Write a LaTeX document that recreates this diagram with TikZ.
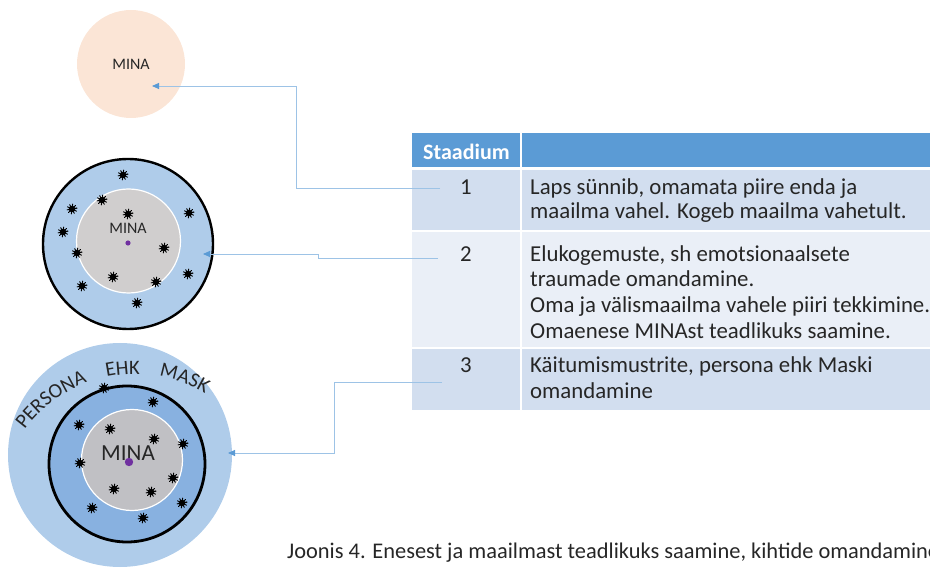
\documentclass[tikz,border=0pt]{standalone}
\usepackage{fontspec}
\setmainfont{Carlito}
\usetikzlibrary{arrows.meta,decorations.text}

\definecolor{peach}{HTML}{FBE5D6}
\definecolor{ringlight}{HTML}{AFCCEA}
\definecolor{ringdark}{HTML}{88B1E0}
\definecolor{coregray}{HTML}{D0CECE}
\definecolor{coregraydark}{HTML}{C0C0C4}
\definecolor{dotpurple}{HTML}{7030A0}
\definecolor{hdrblue}{HTML}{5B9BD5}
\definecolor{rowdark}{HTML}{D2DEEF}
\definecolor{rowlight}{HTML}{EAEFF7}
\definecolor{linkblue}{HTML}{9DC3E6}
\definecolor{tipblue}{HTML}{5B9BD5}
\definecolor{ink}{HTML}{262626}

\begin{document}
\begin{tikzpicture}[x=1pt,y=1pt,
  link/.style={draw=linkblue, line width=0.9pt,
    -{Triangle[length=7pt,width=6pt,color=tipblue]}},
  germ/.pic={
    \fill[black] (0,0) circle (3.3);
    \foreach \a in {10,46,...,370}
      \draw[black, line width=0.9pt, line cap=round] (0,0) -- (\a:5);
  },
  celltext/.style={anchor=base west, inner sep=0pt, text=ink,
    font=\fontsize{22.8}{25}\selectfont},
  numtext/.style={anchor=base, inner sep=0pt, text=ink,
    font=\fontsize{22.8}{25}\selectfont},
  label/.style={inner sep=0pt, text=ink}
]
\useasboundingbox (0,0) rectangle (930,579);
\clip (0,0) rectangle (930,579);

% ---- stage 1: bare self ----
\fill[peach] (131,515) circle (54);
\node[label, font=\fontsize{16}{16}\selectfont] (mina1) at (131,515) {MINA};

% ---- stage 2: self with a boundary ----
\fill[ringlight] (128,335) circle (85);
\draw[black, line width=2.4pt] (128,335) circle (85);
\fill[coregray, draw=white, line width=1.2pt] (128.5,338) circle (52);
\foreach \p in {(123,404),(102,379),(72,370),(128,365),(189,366),(63,347),
                (77,326),(164,331),(113,302),(188,305),(156,297),(82,293),(137,276)}
  \pic at \p {germ};
\node[label, font=\fontsize{16}{16}\selectfont] (mina2) at (128,351) {MINA};
\fill[dotpurple] (128,336) circle (2.6);

% ---- stage 3: self, boundary and persona ----
\fill[ringlight] (120,124) circle (112);
\fill[ringdark] (127,115) circle (78);
\draw[black, line width=2.8pt] (127,115) circle (78);
\fill[coregraydark, draw=white, line width=1.2pt] (132,119) circle (50.5);
\foreach \p in {(104,191),(153,177),(79,154),(110,150),(154,140),(183,135),
                (80,116),(173,101),(114,90),(151,87),(182,76),(92,71),(143,61)}
  \pic at \p {germ};
\node[label, font=\fontsize{23}{23}\selectfont] (mina3) at (128,126) {MINA};
\fill[dotpurple] (129,117) circle (4.2);

% arched caption over the mask
\path[decorate, decoration={text along path, text align=center,
      text={|\fontsize{20.5}{20.5}\selectfont\color{ink}|PERSONA}}]
  (135,68) ++(147:137) arc[start angle=147, end angle=107, radius=137];
\path[decorate, decoration={text along path, text align=center,
      text={|\fontsize{20.5}{20.5}\selectfont\color{ink}|EHK}}]
  (135,68) ++(104:137) arc[start angle=104, end angle=86, radius=137];
\path[decorate, decoration={text along path, text align=center,
      text={|\fontsize{20.5}{20.5}\selectfont\color{ink}|MASK}}]
  (135,68) ++(82:137) arc[start angle=82, end angle=57, radius=137];

% ---- table ----
\fill[hdrblue]  (412,412) rectangle (940,446);
\fill[rowdark]  (412,349) rectangle (940,409);
\fill[rowlight] (412,232) rectangle (940,347);
\fill[rowdark]  (412,169) rectangle (940,230);
\draw[white, line width=1.6pt] (521,446) -- (521,169);
\draw[white, line width=2pt] (412,410.5) -- (940,410.5);

\node[anchor=base west, inner sep=0pt, text=white,
      font=\fontsize{22}{22}\selectfont\bfseries] (hdr) at (423,419) {Staadium};

\node[numtext] (n1) at (466,384) {1};
\node[celltext] (r1a) at (530,384) {Laps sünnib, omamata piire enda ja};
\node[celltext] (r1b) at (530,360) {maailma vahel. Kogeb maailma vahetult.};

\node[numtext] (n2) at (466,317) {2};
\node[celltext] (r2a) at (530,317) {Elukogemuste, sh emotsionaalsete};
\node[celltext] (r2b) at (530,292) {traumade omandamine.};
\node[celltext] (r2c) at (530,266) {Oma ja välismaailma vahele piiri tekkimine.};
\node[celltext] (r2d) at (530,240) {Omaenese MINAst teadlikuks saamine.};

\node[numtext] (n3) at (466,206) {3};
\node[celltext] (r3a) at (530,206) {Käitumismustrite, persona ehk Maski};
\node[celltext] (r3b) at (530,180) {omandamine};

% ---- connectors from the stages to the pictures ----
\coordinate (s1) at (440,391);
\coordinate (b1) at (296,391);
\coordinate (t1) at (152,493);
\draw[link] (s1) -- (b1) -- (b1 |- t1) -- (t1);

\coordinate (s2) at (438,321);
\coordinate (b2) at (318,321);
\coordinate (t2) at (203,325);
\draw[link] (s2) -- (b2) -- (b2 |- t2) -- (t2);

\coordinate (s3) at (442,197);
\coordinate (b3) at (334,197);
\coordinate (t3) at (228,126);
\draw[link] (s3) -- (b3) -- (b3 |- t3) -- (t3);

% ---- caption ----
\node[anchor=base west, inner sep=0pt, text=ink,
      font=\fontsize{22.4}{24}\selectfont] (caption) at (287,21)
  {Joonis 4. Enesest ja maailmast teadlikuks saamine, kihtide omandamine};
\end{tikzpicture}
\end{document}
